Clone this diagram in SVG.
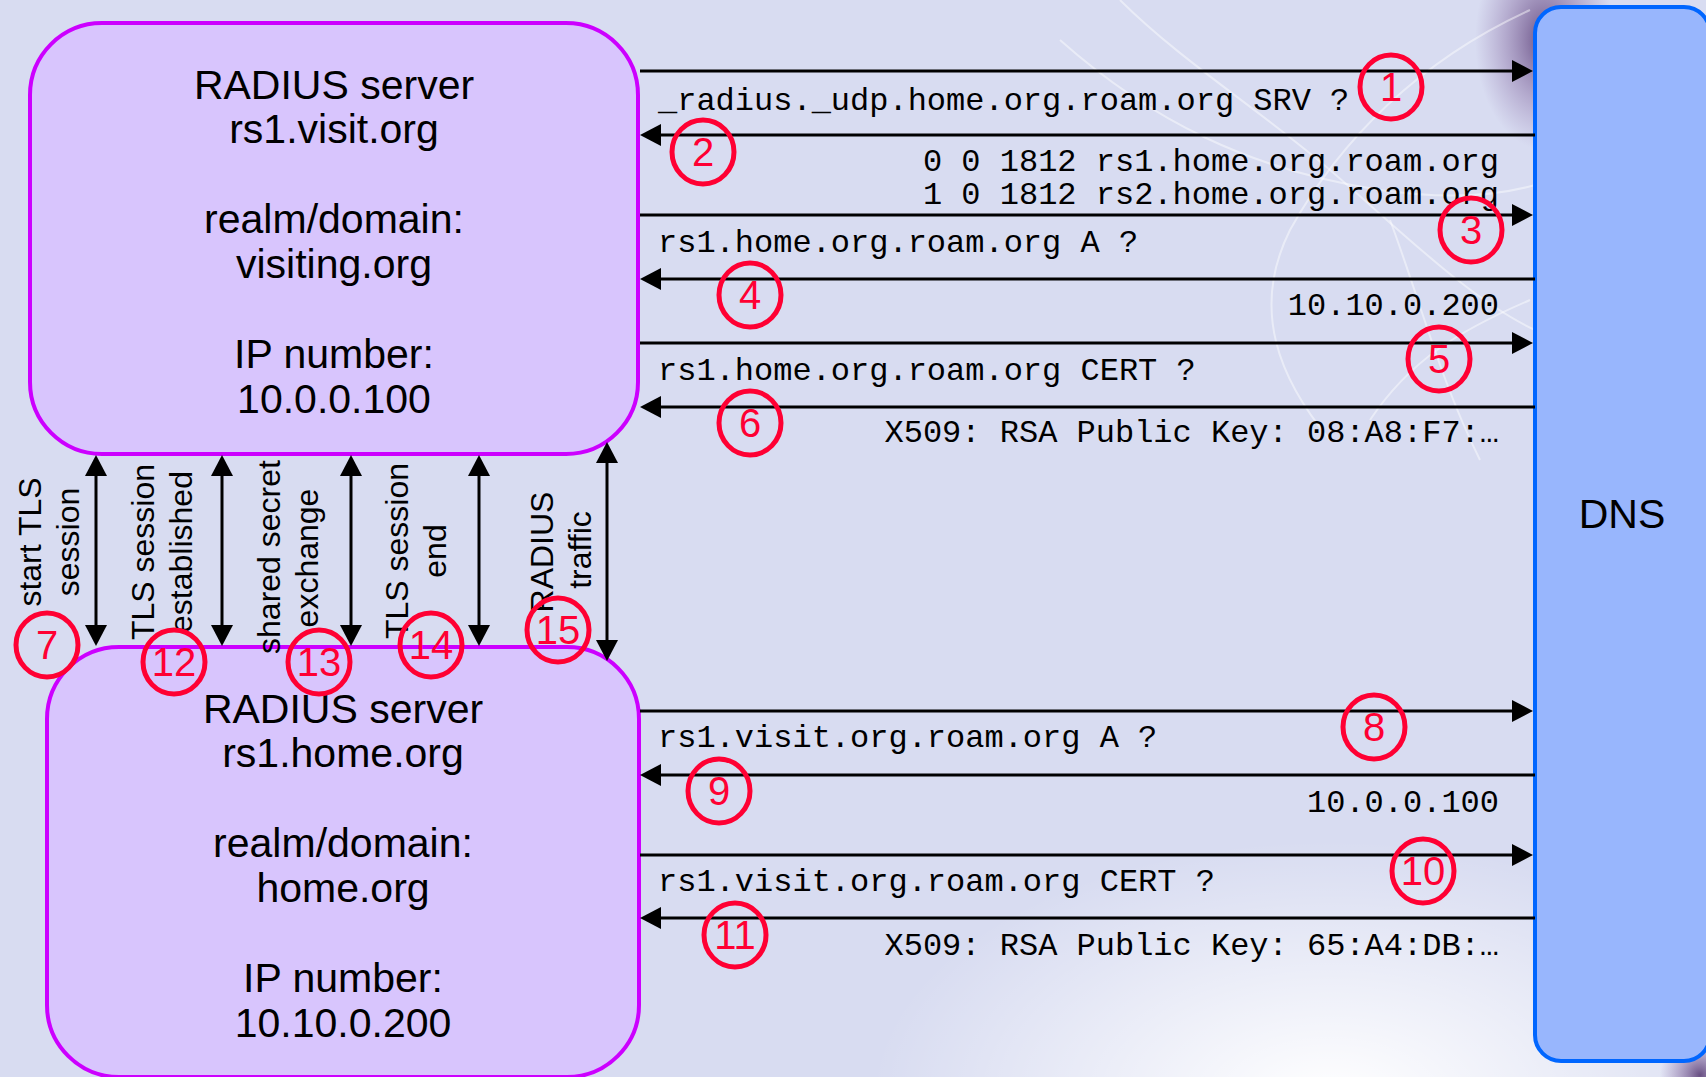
<svg xmlns="http://www.w3.org/2000/svg" width="1706" height="1077" viewBox="0 0 1706 1077">
  <defs>
    <style>
      .bg { fill: #d8dcf1; }
      .server rect { fill: #d8c5fd; stroke: #cc00ff; stroke-width: 4; }
      .dns rect { fill: #98b6fd; stroke: #0066ff; stroke-width: 4; }
      .sans { font-family: "Liberation Sans", Arial, sans-serif; fill: #000; }
      .box-text { font-size: 41px; text-anchor: middle; }
      .vlabel { font-size: 32px; text-anchor: middle; }
      .mono { font-family: "Liberation Mono", "Courier New", monospace; font-size: 32px; fill: #000; }
      .end { text-anchor: end; }
      .msg { stroke: #000; stroke-width: 3; fill: none; }
      .step ellipse { fill: none; stroke: #ff0033; stroke-width: 5; }
      .step text { font-family: "Liberation Sans", Arial, sans-serif; font-size: 40px; fill: #ff0033; text-anchor: middle; }
      .swirl { fill: none; stroke: #ffffff; stroke-opacity: 0.45; stroke-width: 2; }
    </style>
    <marker id="head" viewBox="0 0 21 22" refX="11" refY="11" markerWidth="21" markerHeight="22" markerUnits="userSpaceOnUse" orient="auto-start-reverse">
      <path d="M0,0 L21,11 L0,22 z" fill="#000"/>
    </marker>
    <radialGradient id="glow" cx="0.5" cy="0.5" r="0.5">
      <stop offset="0" stop-color="#ffffff" stop-opacity="1"/>
      <stop offset="1" stop-color="#ffffff" stop-opacity="0"/>
    </radialGradient>
    <radialGradient id="smudge" cx="0.5" cy="0.5" r="0.5">
      <stop offset="0" stop-color="#4a2a66" stop-opacity="0.8"/>
      <stop offset="0.6" stop-color="#7a5a96" stop-opacity="0.35"/>
      <stop offset="1" stop-color="#8a6aa6" stop-opacity="0"/>
    </radialGradient>
  </defs>

  <!-- backdrop -->
  <rect class="bg" x="0" y="0" width="1706" height="1077"/>
  <ellipse cx="1330" cy="1100" rx="460" ry="260" fill="url(#glow)"/>
  <ellipse cx="1545" cy="40" rx="70" ry="110" fill="url(#smudge)"/>
  <ellipse cx="1700" cy="1075" rx="40" ry="40" fill="url(#smudge)"/>
  <g class="swirl">
    <path d="M1120,0 C1180,60 1260,110 1330,170 C1400,230 1470,300 1535,330"/>
    <path d="M1530,10 C1420,60 1340,140 1290,230 C1250,310 1280,380 1330,440"/>
    <path d="M1060,40 C1150,120 1250,170 1380,190 C1450,200 1500,195 1535,185"/>
    <path d="M1390,220 C1420,300 1440,380 1480,460"/>
    <path d="M1530,300 C1460,330 1410,360 1370,420"/>
  </g>

  <!-- RADIUS server, visited side -->
  <g id="server-visit" class="server">
    <rect x="30" y="23" width="608" height="431" rx="72" ry="72"/>
    <text class="sans box-text" x="334" y="99">RADIUS server</text>
    <text class="sans box-text" x="334" y="143">rs1.visit.org</text>
    <text class="sans box-text" x="334" y="233">realm/domain:</text>
    <text class="sans box-text" x="334" y="278">visiting.org</text>
    <text class="sans box-text" x="334" y="368">IP number:</text>
    <text class="sans box-text" x="334" y="413">10.0.0.100</text>
  </g>

  <!-- RADIUS server, home side -->
  <g id="server-home" class="server">
    <rect x="47" y="647" width="592" height="430" rx="72" ry="72"/>
    <text class="sans box-text" x="343" y="723">RADIUS server</text>
    <text class="sans box-text" x="343" y="767">rs1.home.org</text>
    <text class="sans box-text" x="343" y="857">realm/domain:</text>
    <text class="sans box-text" x="343" y="902">home.org</text>
    <text class="sans box-text" x="343" y="992">IP number:</text>
    <text class="sans box-text" x="343" y="1037">10.10.0.200</text>
  </g>

  <!-- DNS -->
  <g id="dns" class="dns">
    <rect x="1535" y="7" width="175" height="1054" rx="26" ry="26"/>
    <text class="sans" x="1622" y="528" font-size="41" text-anchor="middle">DNS</text>
  </g>

  <!-- message flows -->
  <g id="connectors">
    <line class="msg" x1="640" y1="71" x2="1523" y2="71" marker-end="url(#head)"/>
    <line class="msg" x1="1535" y1="135" x2="650" y2="135" marker-end="url(#head)"/>
    <line class="msg" x1="640" y1="215" x2="1523" y2="215" marker-end="url(#head)"/>
    <line class="msg" x1="1535" y1="279" x2="650" y2="279" marker-end="url(#head)"/>
    <line class="msg" x1="640" y1="343" x2="1523" y2="343" marker-end="url(#head)"/>
    <line class="msg" x1="1535" y1="407" x2="650" y2="407" marker-end="url(#head)"/>
    <line class="msg" x1="640" y1="711" x2="1523" y2="711" marker-end="url(#head)"/>
    <line class="msg" x1="1535" y1="775" x2="650" y2="775" marker-end="url(#head)"/>
    <line class="msg" x1="640" y1="855" x2="1523" y2="855" marker-end="url(#head)"/>
    <line class="msg" x1="1535" y1="918" x2="650" y2="918" marker-end="url(#head)"/>

    <line class="msg" x1="96" y1="465" x2="96" y2="636" marker-start="url(#head)" marker-end="url(#head)"/>
    <line class="msg" x1="222" y1="465" x2="222" y2="636" marker-start="url(#head)" marker-end="url(#head)"/>
    <line class="msg" x1="351" y1="465" x2="351" y2="636" marker-start="url(#head)" marker-end="url(#head)"/>
    <line class="msg" x1="479" y1="465" x2="479" y2="636" marker-start="url(#head)" marker-end="url(#head)"/>
    <line class="msg" x1="607" y1="452" x2="607" y2="651" marker-start="url(#head)" marker-end="url(#head)"/>
  </g>

  <!-- DNS queries and answers -->
  <g id="messages">
    <text class="mono" x="658" y="110">_radius._udp.home.org.roam.org SRV ?</text>
    <text class="mono end" x="1499" y="171">0 0 1812 rs1.home.org.roam.org</text>
    <text class="mono end" x="1499" y="204">1 0 1812 rs2.home.org.roam.org</text>
    <text class="mono" x="658" y="252">rs1.home.org.roam.org A ?</text>
    <text class="mono end" x="1499" y="315">10.10.0.200</text>
    <text class="mono" x="658" y="380">rs1.home.org.roam.org CERT ?</text>
    <text class="mono end" x="1499" y="442">X509: RSA Public Key: 08:A8:F7:…</text>
    <text class="mono" x="658" y="747">rs1.visit.org.roam.org A ?</text>
    <text class="mono end" x="1499" y="812">10.0.0.100</text>
    <text class="mono" x="658" y="891">rs1.visit.org.roam.org CERT ?</text>
    <text class="mono end" x="1499" y="955">X509: RSA Public Key: 65:A4:DB:…</text>
  </g>

  <!-- TLS phase labels, rotated -->
  <g id="tls-labels" class="sans vlabel">
    <text transform="translate(41,542) rotate(-90)">start TLS</text>
    <text transform="translate(79,542) rotate(-90)">session</text>
    <text transform="translate(154,552) rotate(-90)">TLS session</text>
    <text transform="translate(192,552) rotate(-90)">established</text>
    <text transform="translate(280,557) rotate(-90)">shared secret</text>
    <text transform="translate(318,558) rotate(-90)">exchange</text>
    <text transform="translate(408,551) rotate(-90)">TLS session</text>
    <text transform="translate(446,551) rotate(-90)">end</text>
    <text transform="translate(553,552) rotate(-90)">RADIUS</text>
    <text transform="translate(591,550) rotate(-90)">traffic</text>
  </g>

  <!-- step numbers -->
  <g id="steps" class="step">
    <g id="step1"><ellipse cx="1391" cy="87" rx="31" ry="32"/><text x="1391" y="101">1</text></g>
    <g id="step2"><ellipse cx="703" cy="152" rx="31" ry="32"/><text x="703" y="166">2</text></g>
    <g id="step3"><ellipse cx="1471" cy="230" rx="31" ry="32"/><text x="1471" y="244">3</text></g>
    <g id="step4"><ellipse cx="750" cy="295" rx="31" ry="32"/><text x="750" y="309">4</text></g>
    <g id="step5"><ellipse cx="1439" cy="359" rx="31" ry="32"/><text x="1439" y="373">5</text></g>
    <g id="step6"><ellipse cx="750" cy="423" rx="31" ry="32"/><text x="750" y="437">6</text></g>
    <g id="step7"><ellipse cx="47" cy="645" rx="31" ry="32"/><text x="47" y="659">7</text></g>
    <g id="step8"><ellipse cx="1374" cy="727" rx="31" ry="32"/><text x="1374" y="741">8</text></g>
    <g id="step9"><ellipse cx="719" cy="791" rx="31" ry="32"/><text x="719" y="805">9</text></g>
    <g id="step10"><ellipse cx="1423" cy="871" rx="31" ry="32"/><text x="1423" y="885">10</text></g>
    <g id="step11"><ellipse cx="735" cy="935" rx="31" ry="32"/><text x="735" y="949">11</text></g>
    <g id="step12"><ellipse cx="174" cy="662" rx="31" ry="32"/><text x="174" y="676">12</text></g>
    <g id="step13"><ellipse cx="319" cy="662" rx="31" ry="32"/><text x="319" y="676">13</text></g>
    <g id="step14"><ellipse cx="431" cy="645" rx="31" ry="32"/><text x="431" y="659">14</text></g>
    <g id="step15"><ellipse cx="558" cy="630" rx="31" ry="32"/><text x="558" y="644">15</text></g>
  </g>
</svg>
